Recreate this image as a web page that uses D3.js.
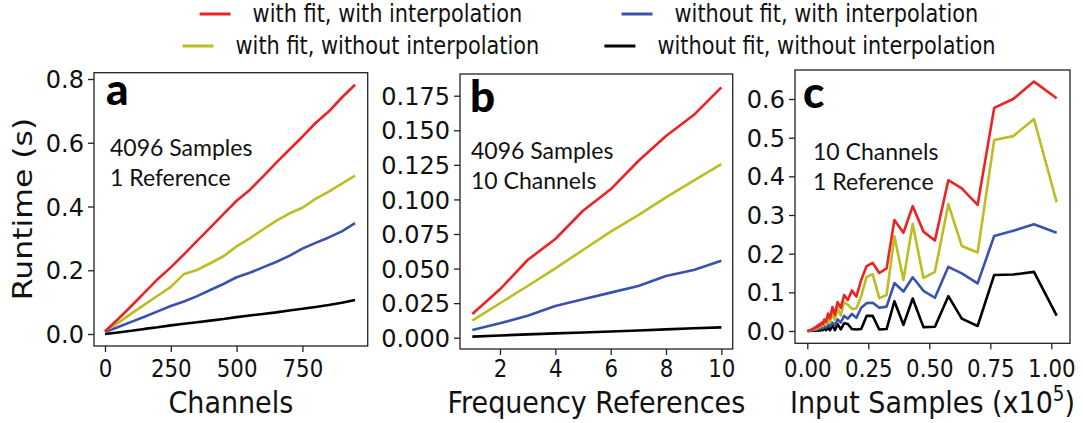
<!DOCTYPE html>
<html><head><meta charset="utf-8">
<script src="https://cdn.jsdelivr.net/npm/d3@7"></script>
<style>body{margin:0;background:#fff} svg{display:block}</style>
</head><body>
<svg id="chart" width="1083" height="423"></svg>
<script>
// ---------- DATA ----------
const seriesNames = ["with fit, with interpolation", "without fit, with interpolation",
                     "with fit, without interpolation", "without fit, without interpolation"];
const seriesColors = ["#ee2222", "#3a52ad", "#bcbd22", "#000000"];

// panel a : runtime vs channels (4096 samples, 1 reference)
const channels = [0,50,100,150,200,250,300,350,400,450,500,550,600,650,700,750,800,850,900,950];
const aFitInterp    = [0.008,0.047,0.088,0.130,0.172,0.209,0.250,0.292,0.334,0.376,0.418,0.452,0.494,0.537,0.578,0.619,0.662,0.698,0.742,0.782];
const aNoFitInterp  = [0.006,0.022,0.038,0.054,0.071,0.088,0.102,0.119,0.138,0.157,0.178,0.192,0.209,0.226,0.245,0.268,0.286,0.303,0.322,0.348];
const aFitNoInterp  = [0.010,0.035,0.064,0.092,0.120,0.148,0.188,0.201,0.222,0.244,0.275,0.300,0.328,0.355,0.378,0.396,0.424,0.447,0.472,0.497];
const aNoFitNoInterp= [0.000,0.005,0.010,0.016,0.021,0.027,0.032,0.037,0.042,0.047,0.053,0.058,0.063,0.068,0.074,0.079,0.085,0.091,0.098,0.107];

// panel b : runtime vs frequency references (4096 samples, 10 channels)
const references = [1,2,3,4,5,6,7,8,9,10];
const bFitInterp    = [0.0171,0.0350,0.0562,0.0714,0.0918,0.1073,0.1278,0.1459,0.1610,0.1810];
const bNoFitInterp  = [0.0056,0.0104,0.0159,0.0229,0.0278,0.0326,0.0374,0.0446,0.0490,0.0557];
const bFitNoInterp  = [0.0123,0.0249,0.0374,0.0502,0.0634,0.0767,0.0887,0.1015,0.1136,0.1256];
const bNoFitNoInterp= [0.0008,0.0016,0.0024,0.0031,0.0038,0.0045,0.0052,0.0060,0.0068,0.0075];

// panel c : runtime vs input samples (x10^5) (10 channels, 1 reference)
const samples = [0.001,0.010,0.018,0.025,0.028,0.030,0.033,0.037,0.040,0.044,0.048,0.053,0.058,0.064,0.070,0.077,0.085,0.093,0.103,0.113,0.124,0.137,0.151,0.166,0.183,0.201,0.221,0.243,0.268,0.295,0.325,0.357,0.394,0.432,0.476,0.523,0.578,0.633,0.698,0.766,0.844,0.929,1.022];
const cFitInterp    = [0.000,0.002,0.004,0.006,0.008,0.007,0.010,0.009,0.013,0.011,0.017,0.014,0.022,0.018,0.030,0.024,0.045,0.033,0.062,0.042,0.075,0.060,0.093,0.080,0.105,0.089,0.132,0.168,0.176,0.150,0.162,0.287,0.254,0.323,0.257,0.234,0.390,0.369,0.326,0.577,0.600,0.645,0.602];
const cNoFitInterp  = [0.000,0.001,0.002,0.002,0.003,0.003,0.004,0.003,0.005,0.004,0.007,0.005,0.009,0.007,0.012,0.009,0.017,0.012,0.022,0.015,0.030,0.022,0.039,0.032,0.044,0.034,0.060,0.072,0.073,0.060,0.063,0.124,0.102,0.139,0.104,0.086,0.166,0.149,0.123,0.246,0.259,0.276,0.254];
const cFitNoInterp  = [0.000,0.001,0.003,0.004,0.006,0.005,0.008,0.006,0.010,0.008,0.013,0.010,0.016,0.013,0.022,0.016,0.032,0.022,0.046,0.028,0.058,0.040,0.075,0.068,0.057,0.058,0.090,0.140,0.147,0.085,0.093,0.245,0.132,0.277,0.137,0.153,0.328,0.220,0.203,0.494,0.504,0.548,0.333];
const cNoFitNoInterp= [0.000,0.000,0.001,0.001,0.001,0.000,0.002,0.001,0.002,0.001,0.003,0.001,0.004,0.002,0.006,0.002,0.010,0.002,0.015,0.002,0.018,0.004,0.020,0.018,0.005,0.004,0.005,0.039,0.039,0.004,0.005,0.077,0.016,0.084,0.010,0.011,0.090,0.032,0.013,0.145,0.146,0.153,0.040];

// tick values
const aXTicks = [0,250,500,750], aYTicks = [0,0.2,0.4,0.6,0.8];
const bXTicks = [2,4,6,8,10], bYTicks = [0,0.025,0.05,0.075,0.1,0.125,0.15,0.175];
const cXTicks = [0,0.25,0.5,0.75,1.0], cYTicks = [0,0.1,0.2,0.3,0.4,0.5,0.6];

// ---------- DRAW ----------
const svg = d3.select("#chart");
const SX = 0.87; // horizontal squeeze of the original figure's text
const tickFont = "'DejaVu Sans', sans-serif";
const noteFont = "Lato, 'Open Sans', sans-serif";

const panels = [
  {letter:"a", box:[94,72.7,367.7,346], xd:[-41.8,998.1], yd:[-0.0376,0.8198], xt:aXTicks, yt:aYTicks,
   xf:d3.format("d"), yf:d3.format(".1f"), x:channels,
   ys:[aFitInterp,aNoFitInterp,aFitNoInterp,aNoFitNoInterp],
   notes:["4096 Samples","1 Reference"], noteX:110, noteY:[155.5,186], letterPos:[106,105],
   xlabel:"Channels"},
  {letter:"b", box:[460,74,732.7,349], xd:[0.555,10.41], yd:[-0.00817,0.1907], xt:bXTicks, yt:bYTicks,
   xf:d3.format("d"), yf:d3.format(".3f"), x:references,
   ys:[bFitInterp,bNoFitInterp,bFitNoInterp,bNoFitNoInterp],
   notes:["4096 Samples","10 Channels"], noteX:471, noteY:[159,188.5], letterPos:[470,112],
   xlabel:"Frequency References"},
  {letter:"c", box:[795,70,1070,343.3], xd:[-0.0504,1.0766], yd:[-0.0318,0.675], xt:cXTicks, yt:cYTicks,
   xf:d3.format(".2f"), yf:d3.format(".1f"), x:samples,
   ys:[cFitInterp,cNoFitInterp,cFitNoInterp,cNoFitNoInterp],
   notes:["10 Channels","1 Reference"], noteX:813, noteY:[160,190], letterPos:[803,108],
   xlabel:null}
];

panels.forEach(p => {
  const [l,t,r,b] = p.box;
  const x = d3.scaleLinear().domain(p.xd).range([l,r]);
  const y = d3.scaleLinear().domain(p.yd).range([b,t]);
  const g = svg.append("g");

  // lines (drawn in order: yellow/blue/black under red as in reference)
  const order = [3,1,2,0];
  const clipId = "clip"+p.letter;
  svg.append("clipPath").attr("id",clipId).append("rect").attr("x",l).attr("y",t).attr("width",r-l).attr("height",b-t);
  order.forEach(i => {
    const line = d3.line().x((d,j)=>x(p.x[j])).y(d=>y(d));
    g.append("path").attr("d", line(p.ys[i])).attr("fill","none")
      .attr("stroke", seriesColors[i]).attr("stroke-width",2.6)
      .attr("stroke-linejoin","round").attr("clip-path",`url(#${clipId})`);
  });

  // frame
  g.append("rect").attr("x",l).attr("y",t).attr("width",r-l).attr("height",b-t)
    .attr("fill","none").attr("stroke","#222").attr("stroke-width",1.3);

  // axes
  const xa = g.append("g").attr("transform",`translate(0,${b})`)
    .call(d3.axisBottom(x).tickValues(p.xt).tickFormat(p.xf).tickSize(6).tickPadding(4));
  const ya = g.append("g").attr("transform",`translate(${l},0)`)
    .call(d3.axisLeft(y).tickValues(p.yt).tickFormat(p.yf).tickSize(6).tickPadding(4));
  [xa,ya].forEach(a => {
    a.select(".domain").remove();
    a.selectAll("line").attr("stroke","#222").attr("stroke-width",1.3);
    a.selectAll("text").attr("fill","#111").style("font-family",tickFont);
  });
  xa.selectAll("text").style("font-size","24.5px").attr("y",0).attr("dy",0)
    .attr("transform",`translate(0,${377-b}) scale(${SX},1)`);
  ya.selectAll("text").style("font-size","24px").attr("dy","0.36em");

  // panel letter
  g.append("text").attr("x",p.letterPos[0]).attr("y",p.letterPos[1]).text(p.letter)
    .style("font-family","Lato, 'Open Sans', sans-serif").style("font-weight",900).style("font-size","44px").attr("fill","#000");

  // notes
  p.notes.forEach((s,i) => {
    g.append("text").attr("x",p.noteX).attr("y",p.noteY[i]).text(s)
      .style("font-family",noteFont).style("font-size","23px").attr("fill","#111");
  });

  // x label
  const lab = g.append("text").attr("transform",`translate(${(l+r)/2},413) scale(${SX},1)`)
    .attr("text-anchor","middle").style("font-family",tickFont).style("font-size","31px").attr("fill","#111");
  if (p.xlabel) lab.text(p.xlabel);
  else {
    lab.append("tspan").text("Input Samples (x10");
    lab.append("tspan").attr("dy",-12).style("font-size","21px").text("5");
    lab.append("tspan").attr("dy",12).text(")");
  }
});

// y label
svg.append("text").attr("transform",`translate(32,209) rotate(-90) scale(1,${SX})`)
  .attr("text-anchor","middle").style("font-family",tickFont).style("font-size","31.5px").attr("fill","#111")
  .text("Runtime (s)");

// legend
const legendCols = [361, 800], legendRows = [14, 46];
const legendLayout = [[0,0],[1,0],[0,1],[1,1]]; // [col,row] for each series
seriesNames.forEach((name,i) => {
  const [c,rw] = legendLayout[i];
  const gg = svg.append("g");
  const txt = gg.append("text").text(name).style("font-family",tickFont).style("font-size","24px").attr("fill","#111");
  const w = txt.node().getComputedTextLength()*SX;
  const total = 31 + 22 + w;
  const x0 = legendCols[c] - total/2;
  gg.append("line").attr("x1",x0).attr("x2",x0+31).attr("y1",legendRows[rw]).attr("y2",legendRows[rw])
    .attr("stroke",seriesColors[i]).attr("stroke-width",3);
  txt.attr("transform",`translate(${x0+53},${legendRows[rw]+8}) scale(${SX},1)`);
});
</script>
</body></html>
